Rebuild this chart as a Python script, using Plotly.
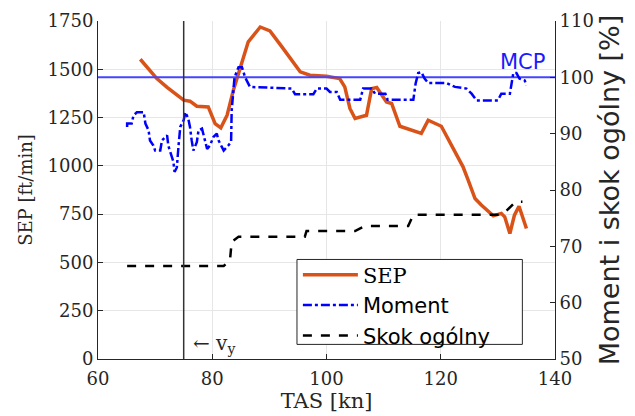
import plotly.graph_objects as go

# Specific excess power vs true airspeed
sep_tas = [67.4, 70.3, 72.1, 75.0, 76.1, 77.3, 79.3, 80.5, 81.5, 82.6, 83.7, 84.9,
           86.3, 88.4, 90.1, 92.2, 95.4, 97.1, 100.0, 102.3, 103.2, 104.1, 105.0,
           107.0, 107.9, 108.8, 110.5, 111.4, 112.85, 116.6, 117.8, 120.1, 123.9,
           124.8, 126.0, 127.1, 129.2, 130.6, 131.2, 132.1, 132.9, 133.7, 134.3, 135.0]
sep_val = [1552, 1452, 1406, 1340, 1335, 1309, 1305, 1219, 1197, 1262, 1392, 1512,
           1642, 1719, 1699, 1616, 1487, 1469, 1464, 1452, 1409, 1297, 1245,
           1262, 1400, 1406, 1331, 1323, 1205, 1168, 1236, 1205, 995,
           926, 831, 797, 741, 754, 736, 650, 745, 791, 736, 676]

# Engine torque [%]
moment_tas = [65.1, 65.1, 65.9, 66.2, 66.8, 68.0, 68.3, 68.85, 69.1, 69.7, 70.0, 70.9,
              71.2, 71.8, 72.1, 72.3, 72.8, 73.2, 73.4, 73.8, 74.1, 74.4, 75.0, 75.3,
              75.8, 76.1, 76.4, 76.7, 77.3, 77.6, 78.2, 78.5, 79.1, 79.6, 80.2, 80.8,
              81.1, 81.7, 82.0, 82.8, 83.3, 83.4, 83.7, 83.9, 84.6, 85.2, 85.75, 86.6,
              93.9, 94.5, 97.7, 98.3, 100.0, 100.6, 101.8, 102.4, 105.9, 106.4, 107.9,
              108.5, 110.3, 110.7, 115.2, 115.6, 116.05, 116.6, 117.2, 117.8, 121.0,
              122.5, 124.5, 125.4, 126.3, 130.0, 130.6, 132.1, 132.4, 132.7, 133.25,
              133.8, 134.7, 135.0]
moment_val = [91.2, 91.8, 91.8, 93.2, 93.8, 93.8, 91.8, 90.6, 88.8, 87.9, 87.0, 87.0,
              88.8, 89.4, 89.7, 87.9, 86.5, 85.0, 83.2, 84.0, 87.9, 91.2, 92.4, 93.8,
              92.7, 91.2, 88.8, 87.0, 88.5, 90.6, 90.9, 89.7, 87.3, 87.9, 89.4, 90.0,
              88.8, 87.6, 87.0, 87.9, 88.5, 94.1, 97.7, 100.0, 101.8, 101.8, 100.0, 98.3,
              98.0, 97.0, 97.0, 98.0, 98.0, 97.4, 97.4, 96.0, 96.0, 98.0, 98.0,
              97.1, 97.1, 96.0, 96.0, 98.9, 100.75, 100.9, 99.75, 99.0, 99.0,
              98.3, 98.0, 97.1, 95.9, 95.9, 97.1, 97.1, 98.9, 100.75, 100.75,
              99.75, 99.45, 98.6]

# Collective pitch [%]
skok_tas = [65.1, 82.0, 83.1, 83.4, 84.6, 96.2, 96.5, 105.0, 105.9, 106.7, 114.3,
            115.2, 130.3, 131.5, 133.1, 134.3]
skok_val = [66.5, 66.5, 67.5, 70.8, 71.7, 71.7, 72.7, 72.7, 73.2, 73.6, 73.6,
            75.6, 75.6, 76.3, 77.9, 77.9]

mcp_level = 100      # maximum continuous power, % torque
vy_speed = 75        # best rate-of-climb speed [kn]
tas_range = [60, 140]

SERIF = "DejaVu Serif"
SANS = "DejaVu Sans"
AX = "#262626"

# legend frame (paper coordinates)
LEG_X0, LEG_X1, LEG_Y0, LEG_Y1 = 0.4354, 0.9286, 0.0432, 0.2945

fig = go.Figure()

fig.add_trace(go.Scatter(
    x=tas_range, y=[mcp_level, mcp_level], yaxis="y2", mode="lines",
    line=dict(color="#4545ff", width=2), showlegend=False, hoverinfo="skip"))

fig.add_trace(go.Scatter(
    x=sep_tas, y=sep_val, mode="lines",
    name=f"<span style='font-family:{SERIF}'>SEP</span>",
    line=dict(color="#D95319", width=3.5)))

fig.add_trace(go.Scatter(
    x=moment_tas, y=moment_val, yaxis="y2", mode="lines", name="Moment",
    line=dict(color="#0000ff", width=2.5, dash="dashdot")))

fig.add_trace(go.Scatter(
    x=skok_tas, y=skok_val, yaxis="y2", mode="lines", name="Skok ogólny",
    line=dict(color="black", width=2.5, dash="dash")))

fig.add_vline(x=vy_speed, line=dict(color="#333333", width=1.5))

fig.add_shape(type="rect", xref="paper", yref="paper",
              x0=LEG_X0, x1=LEG_X1, y0=LEG_Y0, y1=LEG_Y1,
              fillcolor="white", line=dict(color=AX, width=1), layer="above")

fig.add_annotation(x=vy_speed + 1.3, y=80, xref="x", yref="y",
                   text="← v<sub>y</sub>", showarrow=False,
                   xanchor="left", yanchor="middle",
                   font=dict(family=SERIF, size=20, color=AX))

fig.add_annotation(x=134.3, y=mcp_level + 2.8, xref="x", yref="y2",
                   text="MCP", showarrow=False, xanchor="center", yanchor="middle",
                   font=dict(family=SANS, size=21, color="#1a1aff"))

fig.update_layout(
    width=635, height=416,
    margin=dict(l=98, r=80, t=21, b=57, autoexpand=False),
    paper_bgcolor="white", plot_bgcolor="white",
    xaxis=dict(
        range=tas_range, dtick=20, tick0=60, automargin=False,
        showgrid=True, gridcolor="#e6e6e6", gridwidth=1, zeroline=False,
        showline=True, linecolor=AX, linewidth=1,
        ticks="inside", ticklen=5, tickcolor=AX, ticklabelstandoff=3,
        tickfont=dict(family=SERIF, size=18, color=AX),
        title=dict(text="TAS [kn]", font=dict(family=SERIF, size=21, color=AX), standoff=4),
    ),
    yaxis=dict(
        range=[0, 1750], dtick=250, tick0=0, automargin=False,
        showgrid=True, gridcolor="#e6e6e6", gridwidth=1, zeroline=False,
        showline=True, linecolor=AX, linewidth=1,
        ticks="inside", ticklen=5, tickcolor=AX,
        tickfont=dict(family=SERIF, size=18, color=AX),
        title=dict(text="SEP [ft/min]", font=dict(family=SERIF, size=18, color=AX), standoff=10),
    ),
    yaxis2=dict(
        overlaying="y", side="right",
        range=[50, 110], dtick=10, tick0=50, automargin=False,
        showgrid=False, zeroline=False,
        showline=True, linecolor=AX, linewidth=1,
        ticks="inside", ticklen=5, tickcolor=AX,
        tickfont=dict(family=SERIF, size=18, color=AX),
        title=dict(text="Moment i skok ogólny [%]",
                   font=dict(family=SANS, size=27, color=AX), standoff=6),
    ),
    legend=dict(
        x=LEG_X0 + 0.002, y=0.3087, xanchor="left", yanchor="top",
        bgcolor="rgba(0,0,0,0)", borderwidth=0,
        font=dict(family=SANS, size=21, color="black"),
        itemwidth=55, tracegroupgap=0,
    ),
    showlegend=True,
)

fig.write_html("out.html")
